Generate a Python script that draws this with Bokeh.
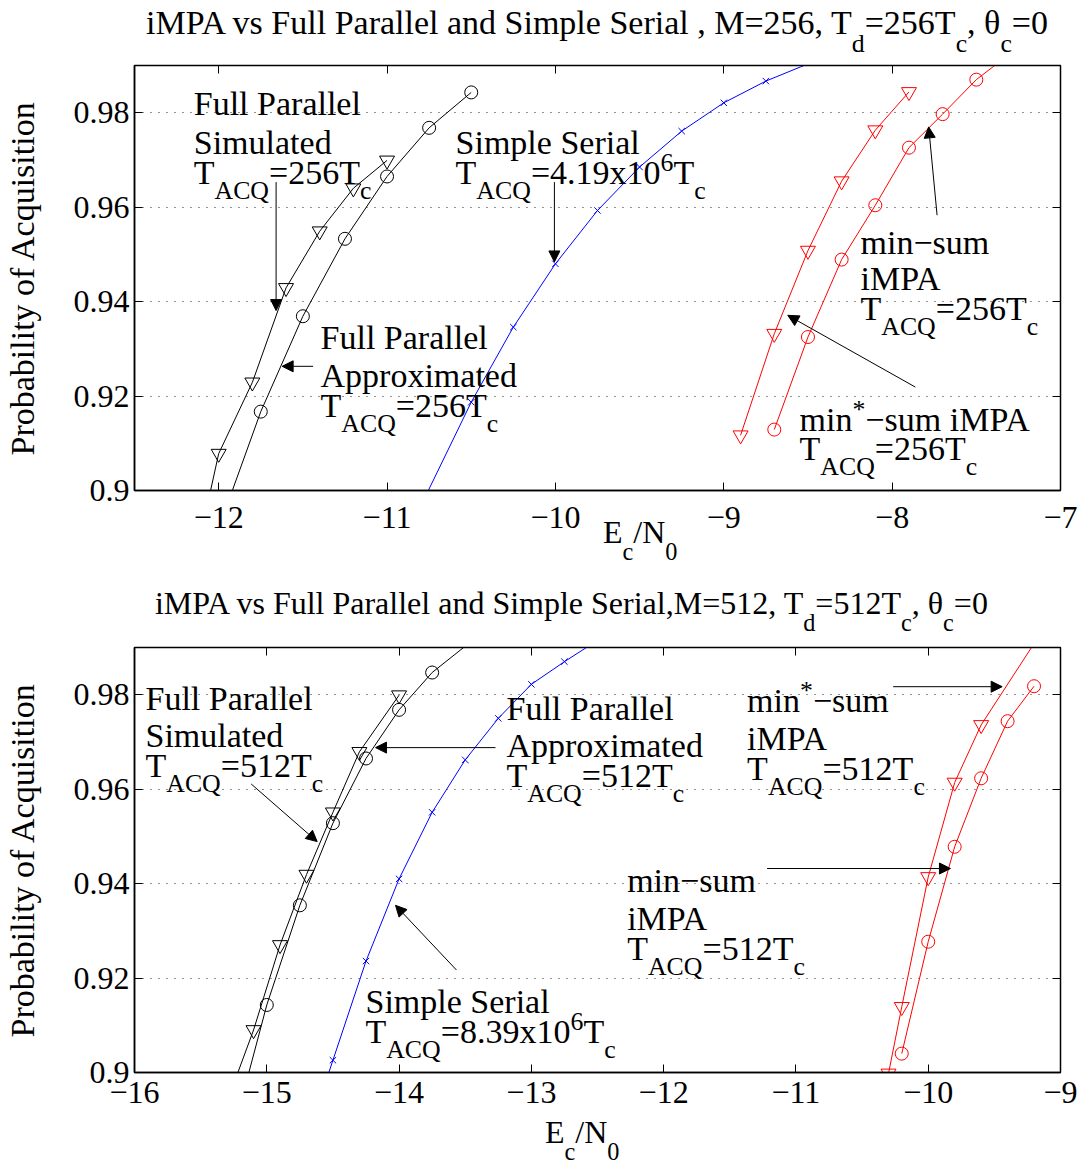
from bokeh.plotting import figure
from bokeh.models import Label, Arrow, NormalHead, FixedTicker, LinearAxis, Range1d, Div
from bokeh.layouts import column
from bokeh.embed import file_html
from bokeh.resources import INLINE

FONT = "Liberation Serif"

# ---------------- data: top panel (M=256) ----------------
top_fp_sim_x = [-12.11, -12.0, -11.8, -11.6, -11.4, -11.2, -11.0]
top_fp_sim_y = [0.890, 0.9078, 0.9229, 0.9429, 0.9549, 0.9640, 0.9699]
top_fp_apx_x = [-12.02, -11.75, -11.5, -11.25, -11.0, -10.75, -10.5]
top_fp_apx_y = [0.890, 0.9167, 0.9369, 0.9533, 0.9665, 0.9768, 0.9843]
top_ss_x = [-11.0, -10.5, -10.25, -10.0, -9.75, -9.5, -9.25, -9.0, -8.75, -8.25]
top_ss_y = [0.882, 0.9187, 0.9346, 0.9480, 0.9593, 0.9685, 0.9761, 0.9821, 0.9867, 0.994]
top_minstar_x = [-8.9, -8.7, -8.5, -8.3, -8.1, -7.9]
top_minstar_y = [0.9117, 0.9332, 0.9508, 0.9655, 0.9763, 0.9844]
top_minsum_x = [-8.7, -8.5, -8.3, -8.1, -7.9, -7.7, -7.5, -7.3]
top_minsum_y = [0.9129, 0.9325, 0.9489, 0.9604, 0.9726, 0.9797, 0.9870, 0.9925]

# ---------------- data: bottom panel (M=512) ----------------
bot_fp_sim_x = [-15.35, -15.1, -14.9, -14.7, -14.5, -14.3, -14.0]
bot_fp_sim_y = [0.890, 0.9090, 0.9270, 0.9419, 0.9551, 0.9679, 0.9799]
bot_fp_apx_x = [-15.23, -15.0, -14.75, -14.5, -14.25, -14.0, -13.75, -13.4]
bot_fp_apx_y = [0.890, 0.9143, 0.9354, 0.9528, 0.9665, 0.9768, 0.9847, 0.9925]
bot_ss_x = [-14.65, -14.5, -14.25, -14.0, -13.75, -13.5, -13.25, -13.0, -12.75, -12.5]
bot_ss_y = [0.890, 0.9026, 0.9236, 0.9410, 0.9551, 0.9662, 0.9750, 0.9822, 0.9870, 0.9915]
bot_minstar_x = [-10.3, -10.2, -10.0, -9.8, -9.6, -9.08]
bot_minstar_y = [0.8998, 0.9139, 0.9414, 0.9614, 0.9736, 0.996]
bot_minsum_x = [-10.2, -10.0, -9.8, -9.6, -9.4, -9.2]
bot_minsum_y = [0.9040, 0.9277, 0.9478, 0.9623, 0.9744, 0.9818]

top_xticks = [-12, -11, -10, -9, -8, -7]
bot_xticks = [-16, -15, -14, -13, -12, -11, -10, -9]
yticks = [0.9, 0.92, 0.94, 0.96, 0.98]
ytick_labels = ["0.9", "0.92", "0.94", "0.96", "0.98"]

# Times / Liberation Serif advance widths (em/1000)
W = {' ': 250, '*': 500, ',': 250, '-': 333, '.': 250, '/': 278, '=': 564,
     'A': 722, 'C': 667, 'E': 611, 'F': 556, 'M': 889, 'N': 722, 'P': 556,
     'Q': 722, 'S': 556, 'T': 611, 'a': 444, 'b': 500, 'c': 444, 'd': 500,
     'e': 444, 'i': 278, 'l': 278, 'm': 778, 'n': 500, 'o': 500, 'p': 500,
     'q': 500, 'r': 333, 's': 389, 't': 278, 'u': 500, 'v': 500, 'x': 500,
     'y': 500, '\u2212': 564, '\u03b8': 500}
for d in "0123456789":
    W[d] = 500

SUB_SCALE, SUB_DROP, SUP_RISE = 0.76, 0.53, 0.30


def tw(s, size):
    return sum(W.get(ch, 500) for ch in s) / 1000.0 * size


def rich(p, x, y, runs, size):
    off = 0.0
    for text, mode in runs:
        if mode == 'n':
            fs, dy = size, 0.0
        elif mode == 'b':
            fs, dy = size * SUB_SCALE, -size * SUB_DROP
        else:
            fs, dy = size * SUB_SCALE, size * SUP_RISE
        p.add_layout(Label(x=x, y=y, x_offset=off, y_offset=dy, text=text,
                           text_font=FONT, text_font_size=f"{fs:.1f}px",
                           text_baseline="alphabetic", text_align="left",
                           text_color="black"))
        off += tw(text, fs)


def html_rich(runs, size):
    parts = []
    for text, mode in runs:
        if mode == 'n':
            parts.append(text)
        elif mode == 'b':
            parts.append(f'<span style="font-size:{size*SUB_SCALE:.1f}px;'
                         f'vertical-align:{-size*SUB_DROP:.1f}px">{text}</span>')
        else:
            parts.append(f'<span style="font-size:{size*SUB_SCALE:.1f}px;'
                         f'vertical-align:{size*SUP_RISE:.1f}px">{text}</span>')
    return "".join(parts)


def html_block(left, baseline, width, size, runs, align="left"):
    top = baseline - 0.8375 * size
    return (f'<div style="position:absolute;left:{left:.1f}px;top:{top:.1f}px;width:{width}px;'
            f'text-align:{align};font-family:\'Liberation Serif\';font-size:{size}px;'
            f'line-height:1;white-space:nowrap;color:black">{html_rich(runs, size)}</div>')


def arrow(p, x0, y0, x1, y1):
    p.add_layout(Arrow(end=NormalHead(size=11, fill_color="black", line_color="black", line_width=1),
                       x_start=x0, y_start=y0, x_end=x1, y_end=y1,
                       line_color="black", line_width=1))


def make_fig(height, xr, top_b, bot_b, xticks, x_standoff):
    p = figure(width=1084, height=height, x_range=Range1d(*xr), y_range=Range1d(0.9, 0.99),
               output_backend="svg", toolbar_location=None,
               min_border_left=134, min_border_right=24,
               min_border_top=top_b, min_border_bottom=bot_b)
    p.background_fill_color = "white"
    p.border_fill_color = "white"
    p.outline_line_color = "black"
    p.outline_line_width = 1.5
    p.xgrid.visible = False
    p.ygrid.ticker = FixedTicker(ticks=yticks[1:])
    p.ygrid.grid_line_color = "black"
    p.ygrid.grid_line_alpha = 0.85
    p.ygrid.grid_line_dash = "1 7"
    p.ygrid.grid_line_width = 1

    xa = p.xaxis[0]
    xa.ticker = FixedTicker(ticks=xticks)
    xa.major_label_overrides = {t: "\u2212" + str(abs(t)) for t in xticks}
    ya = p.yaxis[0]
    ya.ticker = FixedTicker(ticks=yticks)
    ya.major_label_overrides = dict(zip(yticks, ytick_labels))
    ya.axis_label = "Probability of Acquisition"
    ya.axis_label_text_font = FONT
    ya.axis_label_text_font_size = "34px"
    ya.axis_label_text_font_style = "normal"
    ya.axis_label_text_color = "black"
    ya.axis_label_standoff = 30
    for ax in (xa, ya):
        ax.major_label_text_font = FONT
        ax.major_label_text_font_size = "32px"
        ax.major_label_text_color = "black"
        ax.major_tick_in = 8
        ax.major_tick_out = 0
        ax.minor_tick_line_color = None
        ax.axis_line_color = "black"
        ax.axis_line_width = 1.5
        ax.major_tick_line_color = "black"
    xa.major_label_standoff = x_standoff
    ya.major_label_standoff = 5

    top_ax = LinearAxis(ticker=FixedTicker(ticks=xticks),
                        major_label_overrides={t: "" for t in xticks},
                        major_label_standoff=0, major_tick_in=8, major_tick_out=0,
                        minor_tick_line_color=None, axis_line_color="black")
    right_ax = LinearAxis(ticker=FixedTicker(ticks=yticks),
                          major_label_overrides={t: "" for t in yticks},
                          major_label_standoff=0, major_tick_in=8, major_tick_out=0,
                          minor_tick_line_color=None, axis_line_color="black")
    p.add_layout(top_ax, "above")
    p.add_layout(right_ax, "right")
    return p


def series(p, x, y, color, marker):
    p.line(x, y, line_color=color, line_width=1)
    if marker == "tri":
        p.scatter(x, y, marker="inverted_triangle", size=15, fill_color=None, line_color=color, line_width=1)
    elif marker == "circ":
        p.scatter(x, y, marker="circle", size=13, fill_color=None, line_color=color, line_width=1)
    else:
        p.scatter(x, y, marker="x", size=9, line_color=color, line_width=1)


S = 34  # annotation font size
TACQ256 = [("T", 'n'), ("ACQ", 'b'), ("=256T", 'n'), ("c", 'b')]
TACQ512 = [("T", 'n'), ("ACQ", 'b'), ("=512T", 'n'), ("c", 'b')]

# ================= top panel =================
p1 = make_fig(580, (-12.5, -7), 65, 90, top_xticks, 16)
series(p1, top_fp_sim_x, top_fp_sim_y, "black", "tri")
series(p1, top_fp_apx_x, top_fp_apx_y, "black", "circ")
series(p1, top_ss_x, top_ss_y, "blue", "x")
series(p1, top_minstar_x, top_minstar_y, "red", "tri")
series(p1, top_minsum_x, top_minsum_y, "red", "circ")

rich(p1, -12.148, 0.9819, [("Full Parallel", 'n')], S)
rich(p1, -12.148, 0.9738, [("Simulated", 'n')], S)
rich(p1, -12.148, 0.9674, TACQ256, S)
arrow(p1, -11.659, 0.9653, -11.659, 0.9381)

rich(p1, -11.395, 0.9325, [("Full Parallel", 'n')], S)
rich(p1, -11.395, 0.9244, [("Approximated", 'n')], S)
rich(p1, -11.395, 0.9180, TACQ256, S)
arrow(p1, -11.439, 0.9263, -11.623, 0.9263)

rich(p1, -10.593, 0.9738, [("Simple Serial", 'n')], S)
rich(p1, -10.593, 0.9674, [("T", 'n'), ("ACQ", 'b'), ("=4.19x10", 'n'), ("6", 'p'), ("T", 'n'), ("c", 'b')], S)
arrow(p1, -10.006, 0.9653, -10.006, 0.9484)

rich(p1, -8.188, 0.9526, [("min\u2212sum", 'n')], S)
rich(p1, -8.188, 0.9448, [("iMPA", 'n')], S)
rich(p1, -8.188, 0.9385, TACQ256, S)
arrow(p1, -7.733, 0.9583, -7.783, 0.9770)

rich(p1, -8.550, 0.9150, [("min", 'n'), ("*", 'p'), ("\u2212sum iMPA", 'n')], S)
rich(p1, -8.550, 0.9088, TACQ256, S)
arrow(p1, -7.862, 0.9219, -8.620, 0.9371)

# ================= bottom panel =================
p2 = make_fig(590, (-16, -9), 67, 98, bot_xticks, 9)
series(p2, bot_fp_sim_x, bot_fp_sim_y, "black", "tri")
series(p2, bot_fp_apx_x, bot_fp_apx_y, "black", "circ")
series(p2, bot_ss_x, bot_ss_y, "blue", "x")
series(p2, bot_minstar_x, bot_minstar_y, "red", "tri")
series(p2, bot_minsum_x, bot_minsum_y, "red", "circ")

rich(p2, -15.917, 0.9792, [("Full Parallel", 'n')], S)
rich(p2, -15.917, 0.9714, [("Simulated", 'n')], S)
rich(p2, -15.917, 0.9651, TACQ512, S)
arrow(p2, -15.118, 0.9611, -14.619, 0.9489)

rich(p2, -13.188, 0.9771, [("Full Parallel", 'n')], S)
rich(p2, -13.188, 0.9693, [("Approximated", 'n')], S)
rich(p2, -13.188, 0.9630, TACQ512, S)
arrow(p2, -13.271, 0.9688, -14.178, 0.9688)

rich(p2, -14.254, 0.9150, [("Simple Serial", 'n')], S)
rich(p2, -14.254, 0.9086, [("T", 'n'), ("ACQ", 'b'), ("=8.39x10", 'n'), ("6", 'p'), ("T", 'n'), ("c", 'b')], S)
arrow(p2, -13.566, 0.9217, -14.027, 0.9354)

rich(p2, -11.369, 0.9788, [("min", 'n'), ("*", 'p'), ("\u2212sum", 'n')], S)
rich(p2, -11.369, 0.9707, [("iMPA", 'n')], S)
rich(p2, -11.369, 0.9644, TACQ512, S)
arrow(p2, -10.265, 0.9817, -9.441, 0.9817)

rich(p2, -12.276, 0.9407, [("min\u2212sum", 'n')], S)
rich(p2, -12.276, 0.9326, [("iMPA", 'n')], S)
rich(p2, -12.276, 0.9263, TACQ512, S)
arrow(p2, -11.218, 0.9432, -9.832, 0.9432)

# ================= titles and x-axis labels (HTML overlay) =================
title1 = [("iMPA vs Full Parallel and Simple Serial , M=256, T", 'n'), ("d", 'b'),
          ("=256T", 'n'), ("c", 'b'), (", \u03b8", 'n'), ("c", 'b'), ("=0", 'n')]
title2 = [("iMPA vs Full Parallel and Simple Serial,M=512, T", 'n'), ("d", 'b'),
          ("=512T", 'n'), ("c", 'b'), (", \u03b8", 'n'), ("c", 'b'), ("=0", 'n')]
xlabel = [("E", 'n'), ("c", 'b'), ("/N", 'n'), ("0", 'b')]

overlay_html = ('<div style="position:relative;width:1084px;height:1170px">'
                + html_block(92, 29.3, 1000, 34, title1, "center")
                + html_block(598, 538, 200, 32, xlabel)
                + html_block(66.4, 608.3, 1000, 32, title2, "center")
                + html_block(540, 1138, 200, 32, xlabel)
                + '</div>')
overlay = Div(text=overlay_html, width=1084, height=1170,
              styles={"position": "absolute", "left": "0px", "top": "0px",
                      "z-index": "10", "pointer-events": "none"})

layout = column(p1, p2, overlay, spacing=0)
open("out.html", "w").write(file_html(layout, INLINE))
